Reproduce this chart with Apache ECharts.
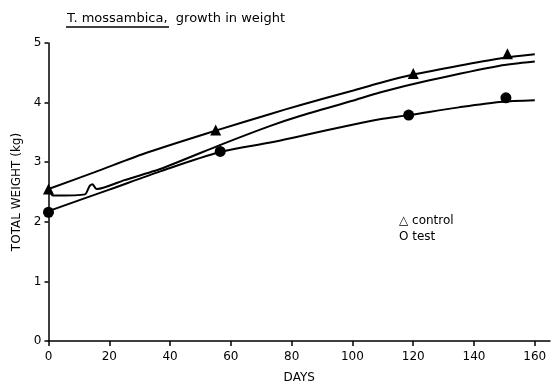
<!DOCTYPE html>
<html>
<head>
<meta charset="utf-8">
<script src="https://cdn.jsdelivr.net/npm/echarts@6/dist/echarts.min.js"></script>
<style>html,body{margin:0;padding:0;background:#fff}#c{width:552px;height:389px}</style>
</head>
<body>
<div id="c"></div>
<script>
// Observed points
var controlDays = [0, 55, 120, 151];
var controlWeight = [2.55, 3.54, 4.49, 4.82];
var testDays = [0, 56.5, 118.5, 150.5];
var testWeight = [2.16, 3.18, 3.79, 4.08];

// Hand-drawn fitted curves
var upperDays = [0, 15, 33, 55, 73, 83, 100, 109, 120, 135, 148.5, 160];
var upperWeight = [2.55, 2.83, 3.17, 3.53, 3.81, 3.96, 4.2, 4.33, 4.47, 4.62, 4.74, 4.81];
var middleDays = [0, 1.5, 12, 13.5, 14.5, 15.5, 16, 25, 37, 57, 73, 83, 100, 109, 125, 148.5, 160];
var middleWeight = [2.55, 2.44, 2.46, 2.6, 2.63, 2.56, 2.55, 2.7, 2.89, 3.3, 3.61, 3.78, 4.03, 4.17, 4.37, 4.62, 4.69];
var lowerDays = [0, 20, 37, 56.5, 73, 83, 100, 109, 118.5, 135, 148.5, 160];
var lowerWeight = [2.18, 2.54, 2.85, 3.17, 3.33, 3.44, 3.63, 3.72, 3.79, 3.92, 4.01, 4.04];

// Tick labels
var xTicks = [0, 20, 40, 60, 80, 100, 120, 140, 160];
var yTicks = [0, 1, 2, 3, 4, 5];

function pairs(xs, ys) { return xs.map(function (x, i) { return [x, ys[i]]; }); }

var FONT = 'DejaVu Sans';
var chart = echarts.init(document.getElementById('c'));
var lineStyle = { color: '#000', width: 2 };
chart.setOption({
  animation: false,
  backgroundColor: '#fff',
  textStyle: { fontFamily: FONT, color: '#000' },
  title: {
    text: '{a|T. mossambica}{b|,  growth in weight}',
    left: 62, top: 7,
    textStyle: {
      fontWeight: 'normal',
      rich: {
        a: { fontFamily: FONT, fontSize: 13, fontWeight: 'normal', color: '#000' },
        b: { fontFamily: FONT, fontSize: 13, fontWeight: 'normal', color: '#000' }
      }
    }
  },
  grid: { left: 48.5, right: 2, top: 43, bottom: 44.5 },
  xAxis: {
    type: 'value', min: 0, max: 165,
    name: 'DAYS', nameLocation: 'middle', nameGap: 31,
    nameTextStyle: { fontFamily: FONT, fontSize: 12, color: '#000' },
    splitLine: { show: false },
    axisLine: { lineStyle: { color: '#000', width: 1.5 } },
    axisTick: { customValues: xTicks, length: 5, lineStyle: { color: '#000', width: 1.5 } },
    axisLabel: { customValues: xTicks, margin: 10, fontFamily: FONT, fontSize: 12, color: '#000' }
  },
  yAxis: {
    type: 'value', min: 0, max: 5, interval: 1,
    name: 'TOTAL WEIGHT (kg)', nameLocation: 'middle', nameGap: 24,
    nameTextStyle: { fontFamily: FONT, fontSize: 12, color: '#000' },
    splitLine: { show: false },
    axisLine: { lineStyle: { color: '#000', width: 1.5 } },
    axisTick: { customValues: yTicks, length: 4, lineStyle: { color: '#000', width: 1.5 } },
    axisLabel: { customValues: yTicks, margin: 7, fontFamily: FONT, fontSize: 12, color: '#000' }
  },
  graphic: [
    { type: 'line', shape: { x1: 66, y1: 27, x2: 169, y2: 27 }, style: { stroke: '#000', lineWidth: 1.5 } },
    { type: 'text', left: 399, top: 215, style: { text: '△ control', font: '12px "DejaVu Sans"', fill: '#000' } },
    { type: 'text', left: 399, top: 231, style: { text: 'O test', font: '12px "DejaVu Sans"', fill: '#000' } }
  ],
  series: [
    { type: 'line', data: pairs(upperDays, upperWeight), smooth: 0.3, showSymbol: false, lineStyle: lineStyle },
    { type: 'line', data: pairs(middleDays, middleWeight), smooth: 0.2, showSymbol: false, lineStyle: lineStyle },
    { type: 'line', data: pairs(lowerDays, lowerWeight), smooth: 0.3, showSymbol: false, lineStyle: lineStyle },
    { type: 'scatter', data: pairs(controlDays, controlWeight), symbol: 'triangle', symbolSize: 11, itemStyle: { color: '#000', opacity: 1 }, z: 5 },
    { type: 'scatter', data: pairs(testDays, testWeight), symbol: 'circle', symbolSize: 11, itemStyle: { color: '#000', opacity: 1 }, z: 5 }
  ]
});
</script>
</body>
</html>
